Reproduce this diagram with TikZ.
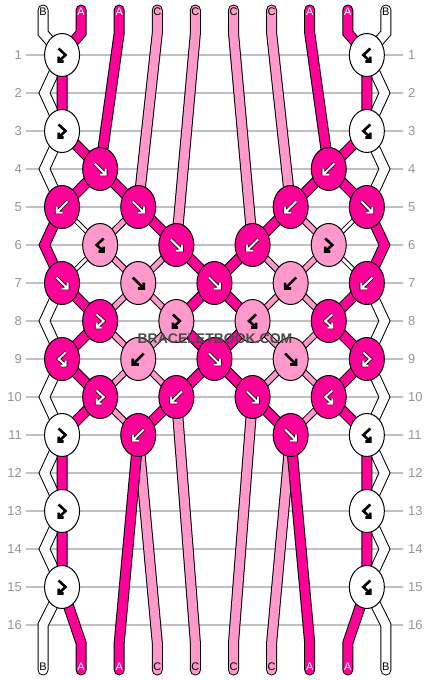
\documentclass[tikz,border=0pt]{standalone}
\usepackage{fontspec}
\setmainfont{Liberation Sans}
\usetikzlibrary{shapes.geometric}
\definecolor{dk}{RGB}{255,0,153}
\definecolor{lt}{RGB}{255,153,204}
\definecolor{gridc}{RGB}{192,192,192}
\definecolor{numc}{RGB}{150,150,150}
\definecolor{wmc}{RGB}{75,75,75}
\pgfdeclarelayer{bg}
\pgfdeclarelayer{lines}
\pgfdeclarelayer{strands}
\pgfsetlayers{bg,lines,strands,main}
\tikzset{
  knot/.style={ellipse, draw=black, line width=1pt, minimum width=35pt, minimum height=43pt, inner sep=0pt},
  band/.style={draw=black, line width=1pt, double distance=9pt, line cap=round},
  bandm/.style={draw=black, line width=1pt, double distance=5pt, line cap=round},
  bandt/.style={draw=black, line width=1pt, double distance=3pt, line cap=round},
  warr/.style={draw=black, line width=0.7pt, double=white, double distance=2pt, line join=miter},
  barr/.style={draw=black, line width=2.6pt, line join=miter},
  rowline/.style={draw=gridc, line width=1.2pt},
  rownum/.style={text=numc, font=\fontsize{13}{13}\selectfont, inner sep=0pt},
  endlab/.style={font=\fontsize{11}{11}\selectfont, inner sep=0pt},
  fwg/.pic={\path[pic actions] (-5.5,-5.5) -- (4.5,4.5) (5.5,-0.5) -- (5.5,5.5) -- (-0.5,5.5);},
  bwg/.pic={\path[pic actions] (5.5,-5.5) -- (-4.5,4.5) (-5.5,-0.5) -- (-5.5,5.5) -- (0.5,5.5);},
  fbg/.pic={\path[pic actions] (-3.5,-6.5) -- (3.5,0) -- (-2.6,5.6) (-3.5,1.5) -- (-3.5,6.5) -- (1.5,6.5);},
  bfg/.pic={\path[pic actions] (3.5,-6.5) -- (-3.5,0) -- (2.6,5.6) (3.5,1.5) -- (3.5,6.5) -- (-1.5,6.5);}
}
\newcommand\kn[6]{\node[knot, fill=#4] (#1) at (#2,#3) {}; \pic[#6] at (#1.center) {#5};}
\begin{document}
\begin{tikzpicture}[x=1pt,y=-1pt]
\begin{pgfonlayer}{bg}
\fill[white] (0,0) rectangle (430,680);
\end{pgfonlayer}
\useasboundingbox (0,0) rectangle (430,680);
% row lines and numbers
\foreach \r in {1,...,16}{
  \pgfmathsetmacro\yy{55+38*(\r-1)}
  \node[rownum, anchor=east] (ln\r) at (22,\yy) {\r};
  \node[rownum, anchor=west] (rn\r) at (408,\yy) {\r};
  \begin{pgfonlayer}{lines}
  \draw[rowline] (26,\yy) -- (403,\yy);
  \end{pgfonlayer}
}
% strand end points
\foreach \i/\xx in {0/43,1/81.1,2/119.2,3/157.3,4/195.4,5/233.5,6/271.6,7/309.7,8/347.8,9/385.9}{
  \coordinate (t\i) at (\xx,10);
  \coordinate (tc\i) at (\xx,33);
  \coordinate (bc\i) at (\xx,643);
  \coordinate (b\i) at (\xx,670);
}
\foreach \r/\yy in {2/93,4/169,6/245,8/321,10/397,12/473,14/549}{
  \coordinate (eL\r) at (44.5,\yy);
  \coordinate (eR\r) at (384.5,\yy);
}
\coordinate (eL16) at (43,625);
\coordinate (eR16) at (385.9,625);
% knots
\kn{k1-0}{62.05}{55}{white}{fbg}{barr}
\kn{k1-8}{366.85}{55}{white}{bfg}{barr}
\kn{k3-0}{62.05}{131}{white}{fbg}{barr}
\kn{k3-8}{366.85}{131}{white}{bfg}{barr}
\kn{k4-1}{100.15}{169}{dk}{fwg}{warr}
\kn{k4-7}{328.75}{169}{dk}{bwg}{warr}
\kn{k5-0}{62.05}{207}{dk}{bwg}{warr}
\kn{k5-2}{138.25}{207}{dk}{fwg}{warr}
\kn{k5-6}{290.65}{207}{dk}{bwg}{warr}
\kn{k5-8}{366.85}{207}{dk}{fwg}{warr}
\kn{k6-1}{100.15}{245}{lt}{bfg}{barr}
\kn{k6-3}{176.35}{245}{dk}{fwg}{warr}
\kn{k6-5}{252.55}{245}{dk}{bwg}{warr}
\kn{k6-7}{328.75}{245}{lt}{fbg}{barr}
\kn{k7-0}{62.05}{283}{dk}{fwg}{warr}
\kn{k7-2}{138.25}{283}{lt}{fwg}{barr}
\kn{k7-4}{214.45}{283}{dk}{fwg}{warr}
\kn{k7-6}{290.65}{283}{lt}{bwg}{barr}
\kn{k7-8}{366.85}{283}{dk}{bwg}{warr}
\kn{k8-1}{100.15}{321}{dk}{fbg}{warr}
\kn{k8-3}{176.35}{321}{lt}{fbg}{barr}
\kn{k8-5}{252.55}{321}{lt}{bfg}{barr}
\kn{k8-7}{328.75}{321}{dk}{bfg}{warr}
\kn{k9-0}{62.05}{359}{dk}{bfg}{warr}
\kn{k9-2}{138.25}{359}{lt}{bwg}{barr}
\kn{k9-4}{214.45}{359}{dk}{fwg}{warr}
\kn{k9-6}{290.65}{359}{lt}{fwg}{barr}
\kn{k9-8}{366.85}{359}{dk}{fbg}{warr}
\kn{k10-1}{100.15}{397}{dk}{fbg}{warr}
\kn{k10-3}{176.35}{397}{dk}{bwg}{warr}
\kn{k10-5}{252.55}{397}{dk}{fwg}{warr}
\kn{k10-7}{328.75}{397}{dk}{bfg}{warr}
\kn{k11-0}{62.05}{435}{white}{fbg}{barr}
\kn{k11-2}{138.25}{435}{dk}{bwg}{warr}
\kn{k11-6}{290.65}{435}{dk}{fwg}{warr}
\kn{k11-8}{366.85}{435}{white}{bfg}{barr}
\kn{k13-0}{62.05}{511}{white}{fbg}{barr}
\kn{k13-8}{366.85}{511}{white}{bfg}{barr}
\kn{k15-0}{62.05}{587}{white}{fbg}{barr}
\kn{k15-8}{366.85}{587}{white}{bfg}{barr}
% strands
\begin{pgfonlayer}{strands}
% s0 (B)
\draw[band, double=white] (t0) -- (tc0) -- (k1-0.center) -- (eL2) -- (k3-0.center) -- (eL4) -- (k5-0.center);
\draw[bandt, double=white] (k5-0.center) -- (k6-1.center) -- (k7-0.center);
\draw[band, double=white] (k7-0.center) -- (eL8) -- (k9-0.center) -- (eL10) -- (k11-0.center) -- (eL12) -- (k13-0.center) -- (eL14) -- (k15-0.center) -- (eL16) -- (b0);
% s9 (B)
\draw[band, double=white] (t9) -- (tc9) -- (k1-8.center) -- (eR2) -- (k3-8.center) -- (eR4) -- (k5-8.center);
\draw[bandt, double=white] (k5-8.center) -- (k6-7.center) -- (k7-8.center);
\draw[band, double=white] (k7-8.center) -- (eR8) -- (k9-8.center) -- (eR10) -- (k11-8.center) -- (eR12) -- (k13-8.center) -- (eR14) -- (k15-8.center) -- (eR16) -- (b9);
% light strands
\draw[band, double=lt] (t3) -- (tc3) -- (k5-2.center);
\draw[bandm, double=lt] (k5-2.center) -- (k6-1.center) -- (k7-2.center) -- (k8-3.center) -- (k9-2.center) -- (k10-1.center) -- (k11-2.center);
\draw[band, double=lt] (k11-2.center) -- (bc3) -- (b3);
\draw[band, double=lt] (t4) -- (tc4) -- (k6-3.center);
\draw[bandm, double=lt] (k6-3.center) -- (k7-2.center) -- (k8-1.center) -- (k9-2.center) -- (k10-3.center);
\draw[band, double=lt] (k10-3.center) -- (bc4) -- (b4);
\draw[band, double=lt] (t5) -- (tc5) -- (k6-5.center);
\draw[bandm, double=lt] (k6-5.center) -- (k7-6.center) -- (k8-7.center) -- (k9-6.center) -- (k10-5.center);
\draw[band, double=lt] (k10-5.center) -- (bc5) -- (b5);
\draw[band, double=lt] (t6) -- (tc6) -- (k5-6.center);
\draw[bandm, double=lt] (k5-6.center) -- (k6-7.center) -- (k7-6.center) -- (k8-5.center) -- (k9-6.center) -- (k10-7.center) -- (k11-6.center);
\draw[band, double=lt] (k11-6.center) -- (bc6) -- (b6);
% dark strands
\draw[band, double=dk] (t1) -- (tc1) -- (k1-0.center) -- (k3-0.center) -- (k4-1.center) -- (k5-2.center) -- (k6-3.center) -- (k7-4.center) -- (k8-5.center) -- (k9-4.center) -- (k10-3.center) -- (k11-2.center) -- (bc2) -- (b2);
\draw[band, double=dk] (t2) -- (tc2) -- (k4-1.center) -- (k5-0.center) -- (eL6) -- (k7-0.center) -- (k8-1.center) -- (k9-0.center) -- (k10-1.center) -- (k11-0.center) -- (k13-0.center) -- (k15-0.center) -- (bc1) -- (b1);
\draw[band, double=dk] (t7) -- (tc7) -- (k4-7.center) -- (k5-8.center) -- (eR6) -- (k7-8.center) -- (k8-7.center) -- (k9-8.center) -- (k10-7.center) -- (k11-8.center) -- (k13-8.center) -- (k15-8.center) -- (bc8) -- (b8);
\draw[band, double=dk] (t8) -- (tc8) -- (k1-8.center) -- (k3-8.center) -- (k4-7.center) -- (k5-6.center) -- (k6-5.center) -- (k7-4.center) -- (k8-3.center) -- (k9-4.center) -- (k10-5.center) -- (k11-6.center) -- (bc7) -- (b7);
\end{pgfonlayer}
% end labels
\foreach \i/\xx/\l/\c in {0/43/B/black,1/81.1/A/white,2/119.2/A/white,3/157.3/C/black,4/195.4/C/black,5/233.5/C/black,6/271.6/C/black,7/309.7/A/white,8/347.8/A/white,9/385.9/B/black}{
  \node[endlab, text=\c] (tl\i) at (\xx,12) {\l};
  \node[endlab, text=\c] (bl\i) at (\xx,667) {\l};
}
% watermark
\node[font=\bfseries\fontsize{14}{14}\selectfont, text=wmc, inner sep=0pt] (wm) at (215,339) {BRACELETBOOK.COM};
\end{tikzpicture}
\end{document}
